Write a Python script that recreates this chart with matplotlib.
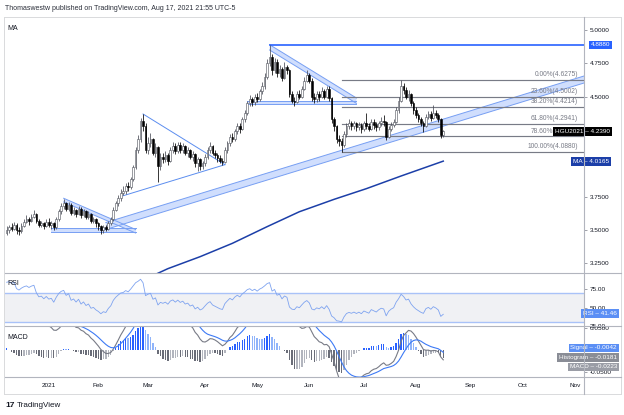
import numpy as np
import pandas as pd
import matplotlib
matplotlib.use('Agg')
import matplotlib.pyplot as plt
import matplotlib.transforms as mtransforms

plt.rcParams['font.family'] = ['Liberation Sans', 'DejaVu Sans']

# HGU2021 daily candles, Dec 8 2020 - Aug 17 2021
first_open = 3.48
close_dec = [3.50, 3.52, 3.51, 3.54, 3.50, 3.49, 3.53, 3.56, 3.58, 3.57, 3.60, 3.62, 3.57, 3.54, 3.55, 3.53, 3.56]
close_jan = [3.54, 3.55, 3.52, 3.58, 3.64, 3.68, 3.70, 3.66, 3.69, 3.63, 3.65, 3.62, 3.66, 3.61, 3.64, 3.60, 3.62, 3.57, 3.58, 3.55]
close_feb = [3.53, 3.50, 3.52, 3.51, 3.55, 3.58, 3.65, 3.70, 3.74, 3.78, 3.79, 3.83, 3.82, 3.88, 3.97, 4.10, 4.18, 4.32, 4.28, 4.10]
close_mar = [4.15, 4.18, 4.08, 4.12, 3.98, 4.05, 4.03, 4.06, 4.02, 4.10, 4.13, 4.09, 4.14, 4.10, 4.13, 4.08, 4.10, 4.05, 4.07, 4.00, 4.03, 3.98, 4.00]
close_apr = [4.05, 4.10, 4.13, 4.08, 4.06, 4.04, 4.02, 4.01, 4.10, 4.15, 4.20, 4.18, 4.24, 4.28, 4.26, 4.33, 4.38, 4.45, 4.48, 4.46, 4.50]
close_may = [4.48, 4.54, 4.58, 4.65, 4.75, 4.80, 4.70, 4.76, 4.68, 4.71, 4.64, 4.72, 4.70, 4.52, 4.47, 4.46, 4.52, 4.50, 4.56, 4.62, 4.66]
close_jun = [4.62, 4.50, 4.48, 4.52, 4.50, 4.54, 4.50, 4.56, 4.49, 4.33, 4.28, 4.18, 4.17, 4.14, 4.22, 4.28, 4.30, 4.28, 4.30, 4.27, 4.29, 4.26]
close_jul = [4.30, 4.28, 4.26, 4.31, 4.29, 4.27, 4.30, 4.32, 4.31, 4.20, 4.26, 4.29, 4.31, 4.40, 4.47, 4.58, 4.55, 4.50, 4.52, 4.45, 4.40]
close_aug = [4.36, 4.33, 4.30, 4.28, 4.35, 4.37, 4.34, 4.38, 4.36, 4.33, 4.21, 4.239]

high_dec = [3.53, 3.54, 3.55, 3.56, 3.55, 3.52, 3.55, 3.58, 3.61, 3.60, 3.62, 3.65, 3.63, 3.58, 3.57, 3.56, 3.58]
high_jan = [3.59, 3.57, 3.56, 3.60, 3.66, 3.70, 3.73, 3.71, 3.71, 3.70, 3.67, 3.66, 3.68, 3.67, 3.66, 3.65, 3.64, 3.63, 3.60, 3.59]
high_feb = [3.56, 3.54, 3.54, 3.54, 3.57, 3.60, 3.67, 3.72, 3.76, 3.81, 3.83, 3.85, 3.86, 3.90, 3.99, 4.12, 4.21, 4.34, 4.37, 4.30]
high_mar = [4.20, 4.23, 4.19, 4.15, 4.13, 4.08, 4.08, 4.09, 4.08, 4.12, 4.16, 4.15, 4.16, 4.16, 4.15, 4.14, 4.12, 4.11, 4.09, 4.08, 4.05, 4.04, 4.02]
high_apr = [4.07, 4.12, 4.16, 4.14, 4.10, 4.08, 4.06, 4.04, 4.12, 4.17, 4.22, 4.23, 4.26, 4.30, 4.30, 4.35, 4.40, 4.47, 4.51, 4.50, 4.52]
high_may = [4.53, 4.56, 4.61, 4.68, 4.78, 4.888, 4.82, 4.79, 4.78, 4.74, 4.72, 4.76, 4.74, 4.71, 4.54, 4.50, 4.54, 4.55, 4.58, 4.65, 4.70]
high_jun = [4.68, 4.64, 4.53, 4.54, 4.54, 4.57, 4.56, 4.58, 4.58, 4.50, 4.35, 4.29, 4.21, 4.19, 4.24, 4.30, 4.33, 4.32, 4.32, 4.31, 4.31, 4.30]
high_jul = [4.32, 4.38, 4.30, 4.33, 4.33, 4.31, 4.32, 4.35, 4.36, 4.32, 4.28, 4.31, 4.33, 4.42, 4.50, 4.6275, 4.60, 4.57, 4.55, 4.53, 4.47]
high_aug = [4.42, 4.38, 4.35, 4.32, 4.37, 4.39, 4.39, 4.44, 4.40, 4.38, 4.34, 4.25]

low_dec = [3.46, 3.48, 3.49, 3.50, 3.47, 3.46, 3.48, 3.52, 3.55, 3.54, 3.56, 3.59, 3.55, 3.52, 3.52, 3.51, 3.52]
low_jan = [3.52, 3.51, 3.50, 3.51, 3.57, 3.62, 3.66, 3.64, 3.64, 3.61, 3.61, 3.60, 3.61, 3.59, 3.60, 3.58, 3.58, 3.55, 3.55, 3.52]
low_feb = [3.50, 3.47, 3.48, 3.49, 3.50, 3.54, 3.57, 3.64, 3.68, 3.72, 3.76, 3.77, 3.79, 3.81, 3.87, 3.96, 4.08, 4.16, 4.24, 4.08]
low_mar = [4.07, 4.12, 4.06, 4.05, 3.86, 3.95, 4.00, 4.01, 3.99, 4.01, 4.08, 4.07, 4.08, 4.08, 4.08, 4.06, 4.05, 4.03, 4.02, 3.97, 3.94, 3.95, 3.96]
low_apr = [3.98, 4.03, 4.08, 4.06, 4.04, 4.01, 4.00, 3.99, 4.00, 4.08, 4.13, 4.16, 4.17, 4.22, 4.23, 4.25, 4.31, 4.36, 4.43, 4.43, 4.44]
low_may = [4.46, 4.47, 4.52, 4.56, 4.63, 4.73, 4.66, 4.68, 4.65, 4.65, 4.62, 4.63, 4.67, 4.50, 4.45, 4.43, 4.45, 4.48, 4.49, 4.55, 4.61]
low_jun = [4.60, 4.47, 4.45, 4.46, 4.47, 4.49, 4.48, 4.49, 4.47, 4.30, 4.24, 4.15, 4.13, 4.088, 4.12, 4.20, 4.26, 4.25, 4.26, 4.24, 4.25, 4.23]
low_jul = [4.24, 4.26, 4.24, 4.25, 4.26, 4.24, 4.25, 4.28, 4.28, 4.175, 4.19, 4.24, 4.27, 4.30, 4.38, 4.46, 4.52, 4.48, 4.47, 4.43, 4.37]
low_aug = [4.34, 4.31, 4.28, 4.235, 4.27, 4.33, 4.32, 4.33, 4.34, 4.31, 4.19, 4.20]

# 200 day moving average, read at a few dates
ma_dates = ['2021-03-02', '2021-03-11', '2021-03-30', '2021-04-19', '2021-05-07', '2021-05-26',
            '2021-06-07', '2021-06-15', '2021-07-02', '2021-07-23', '2021-08-17']
ma_values = [3.15, 3.21, 3.30, 3.40, 3.525, 3.637, 3.69, 3.73, 3.81, 3.905, 4.0165]

# indicator starting state (history before the first visible bar)
rsi_gain_seed, rsi_loss_seed = 0.025, 0.005
macd_fast_seed, macd_slow_seed, macd_signal_seed = 3.45, 3.32, 0.12

# values shown in the right hand tags
rsi_last = 41.46
signal_last, hist_last, macd_last = -0.0042, -0.0181, -0.0223

# drawings
tri1_dates = ['2021-01-12', '2021-02-22']
tri1_top = [3.738, 3.504]
tri1_bot = [3.71, 3.4775]
base1_dates = ['2021-01-05', '2021-02-22']
base1_top, base1_bot = 3.513, 3.487
tri2_dates = ['2021-02-15', '2021-02-25', '2021-04-14']
tri2_prices = [3.757, 4.37, 3.99]
chan_dates = ['2021-02-04', '2021-11-05']
chan_top = [3.556, 4.6565]
chan_bot = [3.504, 4.604]
res_date, res_price = '2021-05-10', 4.888
fall_dates = ['2021-05-10', '2021-06-28']
fall_top = [4.89, 4.49]
fall_bot = [4.85, 4.45]
sup_dates = ['2021-04-27', '2021-06-28']
sup_top, sup_bot = 4.468, 4.443
fib_date = '2021-06-18'
fib_high, fib_low = 4.6275, 4.088
fib_ratios = [0.0, 0.236, 0.382, 0.618, 0.786, 1.0]

price_ticks = [3.25, 3.5, 3.75, 4.5, 4.75, 5.0]
rsi_ticks = [25, 50, 75]
month_starts = ['2021-01-01', '2021-02-01', '2021-03-01', '2021-04-01', '2021-05-01', '2021-06-01',
                '2021-07-01', '2021-08-01', '2021-09-01', '2021-10-01', '2021-11-01']
month_labels = ['2021', 'Feb', 'Mar', 'Apr', 'May', 'Jun', 'Jul', 'Aug', 'Sep', 'Oct', 'Nov']

closes = np.array(close_dec + close_jan + close_feb + close_mar + close_apr + close_may + close_jun + close_jul + close_aug)
highs = np.array(high_dec + high_jan + high_feb + high_mar + high_apr + high_may + high_jun + high_jul + high_aug)
lows = np.array(low_dec + low_jan + low_feb + low_mar + low_apr + low_may + low_jun + low_jul + low_aug)
opens = np.concatenate([[first_open], closes[:-1]])

holidays = pd.to_datetime(['2020-12-25', '2021-01-01', '2021-04-02', '2021-07-05', '2021-09-06'])
days = pd.bdate_range('2020-12-08', '2021-11-30')
days = days[~days.isin(holidays)]
n = len(closes)
x = np.arange(n)


def bx(d):
    return days.get_loc(pd.Timestamp(d))


def ema(values, span, seed):
    k = 2 / (span + 1)
    out = []
    prev = seed
    for v in values:
        prev = prev + k * (v - prev)
        out.append(prev)
    return np.array(out)


def wilder_rsi(prices, prev, gain, loss, period=14):
    out = []
    for p in prices:
        d = p - prev
        prev = p
        gain = (gain * (period - 1) + max(d, 0)) / period
        loss = (loss * (period - 1) + max(-d, 0)) / period
        out.append(100 - 100 / (1 + gain / loss))
    return np.array(out)


rsi = wilder_rsi(closes, first_open, rsi_gain_seed, rsi_loss_seed)
macd = ema(closes, 12, macd_fast_seed) - ema(closes, 26, macd_slow_seed)
signal = ema(macd, 9, macd_signal_seed)
hist = macd - signal

W, H = 624, 415


def fbox(x0, y0, x1, y1):
    return [x0 / W, 1 - y1 / H, (x1 - x0) / W, (y1 - y0) / H]


fig = plt.figure(figsize=(W / 100, H / 100), dpi=100)
ax = fig.add_axes(fbox(5, 17, 584, 273))
ax_rsi = fig.add_axes(fbox(5, 273, 584, 326), sharex=ax)
ax_macd = fig.add_axes(fbox(5, 326, 584, 377), sharex=ax)

xl = ((5 - 6.6) / 2.481, (584 - 6.6) / 2.481)
for a in (ax, ax_rsi, ax_macd):
    a.set_xlim(*xl)
    for s in a.spines.values():
        s.set_visible(False)
    a.yaxis.tick_right()
    a.tick_params(axis='y', length=2.5, width=0.5, color='#787b86', labelsize=4.6,
                  labelcolor='#131722', pad=1.5)
    a.tick_params(axis='x', length=0)

# ---- main pane
band_fill, band_edge = '#d0defd', '#779ff3'


def band(xs, top, bot):
    ax.fill([xs[0], xs[1], xs[1], xs[0]], [top[0], top[1], bot[1], bot[0]], color=band_fill, lw=0, zorder=1)
    ax.plot(xs, top, color=band_edge, lw=0.7, zorder=1.1)
    ax.plot(xs, bot, color=band_edge, lw=0.7, zorder=1.1)


band([bx(d) for d in tri1_dates], tri1_top, tri1_bot)
band([bx(d) for d in base1_dates], [base1_top] * 2, [base1_bot] * 2)
band([bx(d) for d in chan_dates], chan_top, chan_bot)
band([bx(d) for d in fall_dates], fall_top, fall_bot)
band([bx(d) for d in sup_dates], [sup_top] * 2, [sup_bot] * 2)

t2 = [bx(d) for d in tri2_dates]
ax.plot([t2[1], t2[2]], [tri2_prices[1], tri2_prices[2]], color='#5b8def', lw=0.7)
ax.plot([t2[0], t2[2]], [tri2_prices[0], tri2_prices[2]], color='#5b8def', lw=0.7)

ax.plot([bx(res_date), xl[1]], [res_price, res_price], color='#2962ff', lw=1.2, zorder=1.2)

fib_levels = [fib_high - r * (fib_high - fib_low) for r in fib_ratios]
tr_main = mtransforms.blended_transform_factory(ax.transAxes, ax.transData)
for r, lv in zip(fib_ratios, fib_levels):
    ax.plot([bx(fib_date), xl[1]], [lv, lv], color='#787b86', lw=0.85, zorder=1.3)
    ax.annotate(f'{r * 100:.2f}%({lv:.4f})', xy=(573 / 579, lv), xycoords=tr_main,
                xytext=(0, 1.2), textcoords='offset points', ha='right', va='bottom',
                fontsize=4.8, color='#787b86')

ma_x = [bx(d) for d in ma_dates]
ax.plot(ma_x, ma_values, color='#1c3fa8', lw=1.1, zorder=1.5)

up = closes >= opens
ax.vlines(x, lows, highs, colors=np.where(up, '#4a4d57', '#000000'), lw=0.55, zorder=2)
body = np.maximum(np.abs(closes - opens), 0.004)
ax.bar(x[up], body[up], bottom=opens[up], width=0.7, color='white', edgecolor='#4a4d57', lw=0.4, zorder=2.1)
ax.bar(x[~up], body[~up], bottom=closes[~up], width=0.7, color='black', edgecolor='black', lw=0.4, zorder=2.1)

ax.set_ylim(3.1775, 5.0975)
ax.set_yticks(price_ticks)
ax.yaxis.set_major_formatter(matplotlib.ticker.FormatStrFormatter('%.4f'))
ax.tick_params(axis='x', labelbottom=False)
ax.text(0.004, 0.957, 'MA', transform=ax.transAxes, fontsize=5, color='#131722', va='center')


def tag(a, y, s, color, right_px, trans=None):
    tr = trans or mtransforms.blended_transform_factory(a.transAxes, a.transData)
    a.text((right_px - 5) / 579, y, s, transform=tr, ha='right', va='center', fontsize=4.6,
           color='white', clip_on=False, zorder=10,
           bbox=dict(boxstyle='square,pad=0.3', fc=color, ec='none'))


tag(ax, res_price, f'{res_price:.4f}', '#2962ff', 610)
tag(ax, closes[-1], f'HGU2021 – {closes[-1]:.4f}', '#000000', 610)
tag(ax, ma_values[-1], f'MA – {ma_values[-1]:.4f}', '#1c3fa8', 609)

# ---- RSI pane
ax_rsi.axhspan(30, 70, color='#f0f1f4', lw=0, zorder=0)
ax_rsi.axhline(70, color='#a9c2f8', lw=1.0, zorder=1)
ax_rsi.axhline(30, color='#a9c2f8', lw=1.0, zorder=1)
ax_rsi.plot(x, rsi, color='#7ea3f0', lw=0.6, zorder=2)
ax_rsi.set_ylim(26, 96.67)
ax_rsi.set_yticks(rsi_ticks)
ax_rsi.yaxis.set_major_formatter(matplotlib.ticker.FormatStrFormatter('%.2f'))
ax_rsi.tick_params(axis='x', labelbottom=False)
ax_rsi.text(0.004, 0.81, 'RSI', transform=ax_rsi.transAxes, fontsize=5, color='#131722', va='center')
tag(ax_rsi, rsi_last, f'RSI – {rsi_last:.2f}', '#5b8ff5', 617)

# ---- MACD pane
prev = np.concatenate([[hist[0]], hist[:-1]])
hcol = np.where(hist >= 0, np.where(hist >= prev, '#2962ff', '#90b4fa'),
                np.where(hist < prev, '#6a6d78', '#b2b5be'))
ax_macd.bar(x, hist, width=0.55, color=hcol, lw=0, zorder=1)
ax_macd.plot(x, macd, color='#787b86', lw=0.8, zorder=2)
ax_macd.plot(x, signal, color='#3d7af5', lw=0.8, zorder=2)
ax_macd.set_ylim(-0.0614, 0.0545)
ax_macd.set_yticks([-0.05, 0.05])
ax_macd.yaxis.set_major_formatter(matplotlib.ticker.FormatStrFormatter('%.4f'))
ax_macd.set_xticks([days.searchsorted(pd.Timestamp(m)) for m in month_starts], month_labels)
ax_macd.tick_params(axis='x', labelsize=4.6, labelcolor='#131722', pad=4)
ax_macd.text(0.004, 0.78, 'MACD', transform=ax_macd.transAxes, fontsize=5, color='#131722', va='center')
tr_px = mtransforms.blended_transform_factory(ax_macd.transAxes, ax_macd.transAxes)
tag(ax_macd, (377 - 348) / 51, f'Signal – {signal_last:.4f}', '#5b8ff5', 617, tr_px)
tag(ax_macd, (377 - 357.5) / 51, f'Histogram – {hist_last:.4f}', '#8a8d96', 617, tr_px)
tag(ax_macd, (377 - 367) / 51, f'MACD – {macd_last:.4f}', '#9a9da6', 617, tr_px)

# ---- frame, separators, header, footer


def fline(x0, y0, x1, y1, color, lw=0.7):
    fig.add_artist(plt.Line2D([x0 / W, x1 / W], [1 - y0 / H, 1 - y1 / H], color=color, lw=lw,
                              transform=fig.transFigure))


fline(4, 17, 621, 17, '#d9dadc')
fline(4, 394, 621, 394, '#d9dadc')
fline(4, 17, 4, 394, '#d9dadc')
fline(621, 17, 621, 394, '#d9dadc')
for yy in (273, 326, 377):
    fline(5, yy, 621, yy, '#b2b5be', 0.8)
fline(584, 17, 584, 394, '#b2b5be', 0.8)

fig.text(5 / W, 1 - 9 / H, 'Thomaswestw published on TradingView.com, Aug 17, 2021 21:55 UTC-5',
         fontsize=5, color='#2a2e39', va='center')
fig.text(5 / W, 1 - 405 / H, '17', fontsize=6, fontweight='bold', color='#131722', va='center')
fig.text(17 / W, 1 - 405 / H, 'TradingView', fontsize=5.8, color='#131722', va='center')

fig.savefig('out.png', dpi=100)
